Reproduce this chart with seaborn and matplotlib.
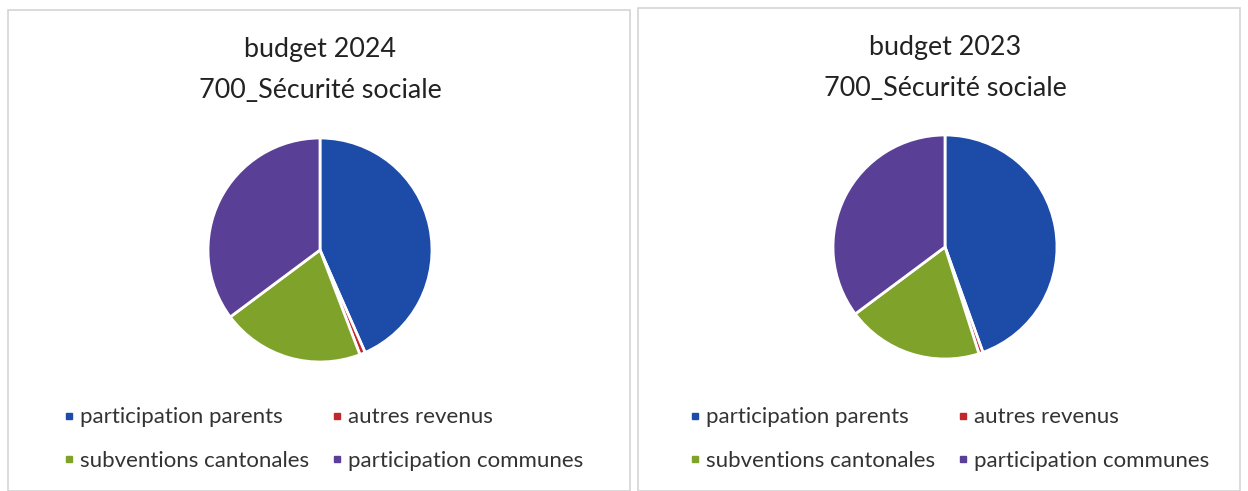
import seaborn as sns
import matplotlib.pyplot as plt
from matplotlib.lines import Line2D
from matplotlib.patches import Rectangle

# Data
categories = ["participation parents", "autres revenus", "subventions cantonales", "participation communes"]
values_2024 = [43.4, 0.8, 20.6, 35.2]
values_2023 = [44.5, 0.6, 19.7, 35.2]
title_lines = [("budget 2024", "700_Sécurité sociale"), ("budget 2023", "700_Sécurité sociale")]
colors = ["#1d4ca8", "#c0282d", "#7fa32a", "#5a3f96"]

sns.set_theme(style="white")
plt.rcParams['font.family'] = ['Lato', 'DejaVu Sans']

fig = plt.figure(figsize=(12.48, 4.91), dpi=100)
W, H = 1248, 491

# panel frames
for x0, y0, x1 in [(8, 10, 630), (638, 8, 1240)]:
    fig.patches.append(Rectangle((x0 / W, 0), (x1 - x0) / W, (H - y0) / H,
                                 transform=fig.transFigure, fill=False,
                                 edgecolor="#d4d4d4", linewidth=1.2))

panels = [
    (values_2024, title_lines[0], 320, 250, 112, 50, 322),
    (values_2023, title_lines[1], 945, 247, 112, 48, 948),
]

for vals, (t1, t2), cx, cy, r, ty, lx in panels:
    ax = fig.add_axes([(cx - r) / W, (H - cy - r) / H, 2 * r / W, 2 * r / H])
    ax.pie(vals, colors=colors, startangle=90, counterclock=False,
           wedgeprops=dict(edgecolor="white", linewidth=2))
    ax.set_xlim(-1, 1)
    ax.set_ylim(-1, 1)
    ax.set_aspect("equal")
    fig.text(cx / W, (H - ty) / H, t1, ha="center", va="center",
             fontsize=19.4, color="#222222")
    fig.text(cx / W, (H - ty - 40) / H, t2, ha="center", va="center",
             fontsize=19.4, color="#222222")

    order = [0, 2, 1, 3]
    handles = [Line2D([], [], marker="s", linestyle="none", markersize=5,
                      color=colors[i]) for i in order]
    labels = [categories[i] for i in order]
    fig.legend(handles, labels, ncol=2, loc="center",
               bbox_to_anchor=(lx / W, (H - 439) / H), frameon=False,
               fontsize=16.0, handletextpad=0.15, columnspacing=0.9,
               labelspacing=1.05, handlelength=0.7, labelcolor="#333333")

plt.savefig("out.png", dpi=100)
